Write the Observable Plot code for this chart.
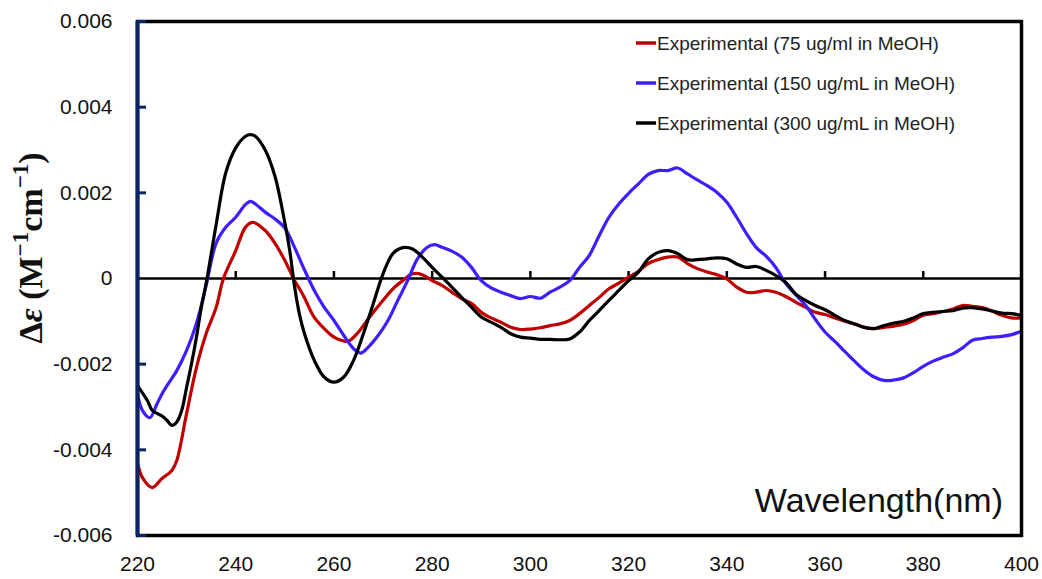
<!DOCTYPE html>
<html>
<head>
<meta charset="utf-8">
<script src="https://cdn.jsdelivr.net/npm/d3@7"></script>
<script src="https://cdn.jsdelivr.net/npm/@observablehq/plot@0.6"></script>
<style>
  html, body { margin: 0; padding: 0; background: #fff; }
  #chart { width: 1042px; height: 579px; }
</style>
</head>
<body>
<div id="chart"></div>
<script>
// CD spectra of the sample in MeOH at three concentrations (Δε vs wavelength)
const seriesNames = [
  "Experimental (75 ug/ml in MeOH)",
  "Experimental (150 ug/mL in MeOH)",
  "Experimental (300 ug/mL in MeOH)"
];
const seriesColors = ["#c00000", "#3c1eff", "#000000"];

// 75 ug/ml
const wl75 = [220,221,223,225,227,228,230,232,234,236,237.5,240,242,243.5,246,248,250,252,253.2,254,256,258,260,262,263,265,267,270,272,274,276,278,280,282,284,286,288,290,292,294,296,298,300,302,304,306,308,310,312,314,316,318,320,322,324,326,328,330,332,334,336,338,340,342,344,346,348,350,352,354,356,358,360,362,364,366,368,370,372,374,376,378,380,382,384,386,388,390,392,394,396,398,400];
const de75 = [-4.30e-3,-4.65e-3,-4.88e-3,-4.67e-3,-4.48e-3,-4.25e-3,-3.15e-3,-2.08e-3,-1.28e-3,-0.68e-3,0.00e-3,0.65e-3,1.20e-3,1.31e-3,1.12e-3,0.82e-3,0.42e-3,-0.05e-3,-0.28e-3,-0.45e-3,-0.91e-3,-1.17e-3,-1.37e-3,-1.46e-3,-1.46e-3,-1.25e-3,-0.94e-3,-0.51e-3,-0.24e-3,-0.05e-3,0.11e-3,0.09e-3,-0.05e-3,-0.16e-3,-0.32e-3,-0.47e-3,-0.58e-3,-0.79e-3,-0.92e-3,-1.02e-3,-1.14e-3,-1.19e-3,-1.18e-3,-1.15e-3,-1.10e-3,-1.06e-3,-0.98e-3,-0.82e-3,-0.63e-3,-0.44e-3,-0.24e-3,-0.11e-3,0.03e-3,0.17e-3,0.35e-3,0.44e-3,0.50e-3,0.50e-3,0.35e-3,0.23e-3,0.15e-3,0.09e-3,-0.01e-3,-0.20e-3,-0.32e-3,-0.32e-3,-0.28e-3,-0.32e-3,-0.42e-3,-0.55e-3,-0.67e-3,-0.79e-3,-0.84e-3,-0.92e-3,-1.00e-3,-1.06e-3,-1.14e-3,-1.17e-3,-1.14e-3,-1.11e-3,-1.07e-3,-0.98e-3,-0.86e-3,-0.82e-3,-0.77e-3,-0.71e-3,-0.63e-3,-0.65e-3,-0.68e-3,-0.76e-3,-0.86e-3,-0.92e-3,-0.92e-3];

// 150 ug/mL
const wl150 = [220,221,222.5,224,225,226,228,230,232,234,236,238,240,242,243,244,246,248,250,252,254,256,258,260,262,264,265.5,267,269,271,273,275,277,279,280.5,282,284,286,288,290,292,294,296,298,300,302,304,306,308,310,312,314,316,318,320,322,324,326,328,330,332,334,336,338,340,342,344,346,348,350,352,354,356,358,360,362,364,366,368,370,372,374,376,378,380,382,384,386,388,390,392,394,396,398,400];
const de150 = [-2.70e-3,-3.08e-3,-3.25e-3,-2.92e-3,-2.69e-3,-2.50e-3,-2.15e-3,-1.68e-3,-1.05e-3,-0.15e-3,0.82e-3,1.20e-3,1.43e-3,1.73e-3,1.80e-3,1.74e-3,1.55e-3,1.39e-3,1.18e-3,0.72e-3,0.20e-3,-0.28e-3,-0.67e-3,-0.98e-3,-1.33e-3,-1.64e-3,-1.74e-3,-1.60e-3,-1.33e-3,-0.98e-3,-0.51e-3,-0.05e-3,0.46e-3,0.73e-3,0.79e-3,0.73e-3,0.64e-3,0.50e-3,0.26e-3,-0.05e-3,-0.22e-3,-0.32e-3,-0.40e-3,-0.47e-3,-0.42e-3,-0.46e-3,-0.32e-3,-0.20e-3,-0.05e-3,0.26e-3,0.54e-3,1.00e-3,1.43e-3,1.74e-3,1.99e-3,2.21e-3,2.43e-3,2.52e-3,2.52e-3,2.58e-3,2.44e-3,2.30e-3,2.17e-3,2.01e-3,1.78e-3,1.43e-3,1.05e-3,0.72e-3,0.52e-3,0.25e-3,-0.12e-3,-0.38e-3,-0.62e-3,-0.95e-3,-1.25e-3,-1.47e-3,-1.70e-3,-1.93e-3,-2.14e-3,-2.30e-3,-2.38e-3,-2.37e-3,-2.32e-3,-2.20e-3,-2.05e-3,-1.93e-3,-1.84e-3,-1.76e-3,-1.62e-3,-1.44e-3,-1.40e-3,-1.37e-3,-1.35e-3,-1.31e-3,-1.23e-3];

// 300 ug/mL
const wl300 = [220,222,223,224,225,226,227,228,229,230,231,232,233,234,236,238,240,242,243,244,246,248,250,251,252,253,254,256,258,260,262,264,266,268,270,272,274,276,278,280,282,284,286,288,290,292,294,296,298,300,302,304,306,308,310,312,314,316,318,320,322,324,326,328,330,332,334,336,338,340,342,344,346,348,350,352,354,356,358,360,362,364,366,368,370,372,374,376,378,380,382,384,386,388,390,392,394,396,398,400];
const de300 = [-2.50e-3,-2.85e-3,-3.08e-3,-3.15e-3,-3.21e-3,-3.31e-3,-3.43e-3,-3.35e-3,-3.08e-3,-2.54e-3,-1.99e-3,-1.37e-3,-0.67e-3,-0.10e-3,1.25e-3,2.48e-3,3.05e-3,3.32e-3,3.36e-3,3.32e-3,3.00e-3,2.38e-3,1.30e-3,0.65e-3,-0.20e-3,-0.85e-3,-1.29e-3,-1.91e-3,-2.30e-3,-2.42e-3,-2.30e-3,-1.91e-3,-1.29e-3,-0.59e-3,0.11e-3,0.58e-3,0.72e-3,0.69e-3,0.50e-3,0.26e-3,0.03e-3,-0.20e-3,-0.44e-3,-0.67e-3,-0.90e-3,-1.02e-3,-1.14e-3,-1.29e-3,-1.37e-3,-1.39e-3,-1.42e-3,-1.42e-3,-1.43e-3,-1.41e-3,-1.25e-3,-0.98e-3,-0.75e-3,-0.51e-3,-0.28e-3,-0.05e-3,0.15e-3,0.46e-3,0.61e-3,0.65e-3,0.58e-3,0.44e-3,0.44e-3,0.46e-3,0.48e-3,0.46e-3,0.34e-3,0.26e-3,0.28e-3,0.19e-3,0.07e-3,-0.09e-3,-0.36e-3,-0.51e-3,-0.63e-3,-0.73e-3,-0.86e-3,-0.98e-3,-1.06e-3,-1.14e-3,-1.17e-3,-1.10e-3,-1.04e-3,-1.00e-3,-0.92e-3,-0.82e-3,-0.79e-3,-0.77e-3,-0.75e-3,-0.69e-3,-0.68e-3,-0.71e-3,-0.76e-3,-0.81e-3,-0.82e-3,-0.86e-3];

// axis ticks and their labels
const xTicks = [220,240,260,280,300,320,340,360,380,400];
const yTicks = [-0.006,-0.004,-0.002,0,0.002,0.004,0.006];
const yTickLabels = ["-0.006","-0.004","-0.002","0","0.002","0.004","0.006"];
const yLabelFor = d => yTickLabels[yTicks.findIndex(t => Math.abs(t - d) < 1e-9)];

const rows = (wl, de, s) => wl.map((w, i) => ({wl: w, de: de[i], s}));
const data = [
  ...rows(wl75, de75, seriesNames[0]),
  ...rows(wl150, de150, seriesNames[1]),
  ...rows(wl300, de300, seriesNames[2])
];

const navy = "#0b2466";
const sans = "'Liberation Sans', Arial, sans-serif";

const plot = Plot.plot({
  width: 1042,
  height: 579,
  marginLeft: 137,
  marginRight: 21,
  marginTop: 21,
  marginBottom: 44,
  style: {fontFamily: sans, fontSize: "21px", color: "#111", background: "#fff"},
  x: {domain: [220, 400], ticks: xTicks, label: null},
  y: {domain: [-0.006, 0.006], ticks: yTicks, label: null, tickFormat: yLabelFor},
  color: {domain: seriesNames, range: seriesColors},
  marks: [
    Plot.axisX({ticks: xTicks, tickSize: 0, tickPadding: 21, fontSize: 21, label: null}),
    Plot.axisY({ticks: yTicks, tickSize: 0, tickPadding: 25, fontSize: 21, label: null, tickFormat: yLabelFor}),
    // zero line with small upward ticks
    Plot.ruleY([0], {stroke: "#000", strokeWidth: 2.5}),
    Plot.ruleX(xTicks.slice(1, -1), {x: d => d, y1: 0, y2: 0, insetTop: -7, stroke: "#000", strokeWidth: 2.5}),
    // spectra
    Plot.line(data, {x: "wl", y: "de", z: "s", stroke: "s", strokeWidth: 3.2, curve: "catmull-rom"}),
    // plot frame, left side in navy with inward ticks
    Plot.frame({stroke: "#000", strokeWidth: 3.5}),
    Plot.ruleX([220], {stroke: navy, strokeWidth: 4}),
    Plot.ruleY(yTicks.filter(t => t !== 0), {y: d => d, x1: 220, x2: 220, insetRight: -9, stroke: navy, strokeWidth: 3})
  ]
});

document.getElementById("chart").appendChild(plot);

const svg = d3.select(plot);

// legend in the upper right of the plot area
const legend = svg.append("g")
  .attr("font-family", sans).attr("font-size", 19).attr("fill", "#222")
  .attr("text-anchor", "start");
seriesNames.forEach((name, i) => {
  const y = 43 + i * 40;
  legend.append("line").attr("x1", 636).attr("x2", 656).attr("y1", y).attr("y2", y)
    .attr("stroke", seriesColors[i]).attr("stroke-width", 3.5);
  legend.append("text").attr("x", 657).attr("y", y).attr("dy", "0.35em").text(name);
});

// x-axis title inside the plot, bottom right
svg.append("text")
  .attr("x", 1003).attr("y", 512)
  .attr("text-anchor", "end")
  .attr("font-family", sans)
  .attr("font-size", 34)
  .attr("fill", "#111")
  .text("Wavelength(nm)");

// y-axis title with superscripts
const yl = svg.append("text")
  .attr("transform", "translate(42,248) rotate(-90)")
  .attr("text-anchor", "middle")
  .attr("font-family", "'Liberation Serif', 'DejaVu Serif', serif")
  .attr("font-weight", "bold")
  .attr("font-size", 34)
  .attr("fill", "#111");
yl.append("tspan").text("Δ");
yl.append("tspan").attr("font-style", "italic").text("ε");
yl.append("tspan").text(" (M");
yl.append("tspan").attr("dy", -14).attr("font-size", 23).text("−1");
yl.append("tspan").attr("dy", 14).text("cm");
yl.append("tspan").attr("dy", -14).attr("font-size", 23).text("−1");
yl.append("tspan").attr("dy", 14).text(")");
</script>
</body>
</html>
